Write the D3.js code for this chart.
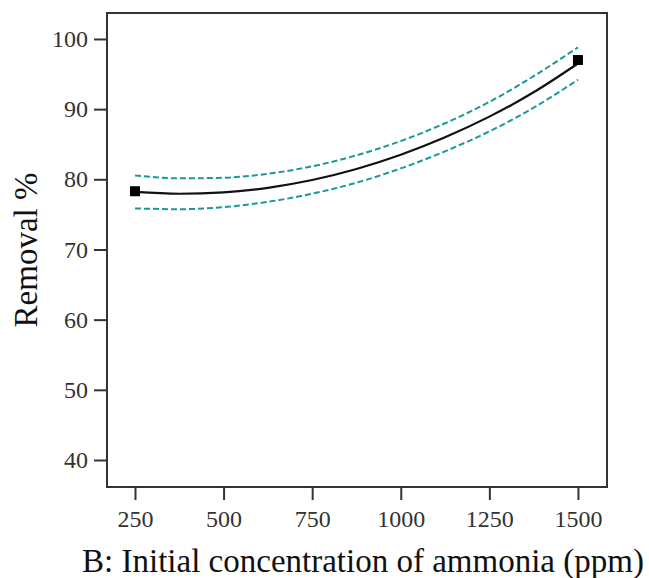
<!DOCTYPE html>
<html>
<head>
<meta charset="utf-8">
<script src="https://cdn.jsdelivr.net/npm/d3@7"></script>
<style>
  html, body { margin: 0; padding: 0; background: #fff; }
  svg { display: block; }
  text { font-family: "Liberation Serif", "Times New Roman", serif; }
</style>
</head>
<body>
<svg id="chart" width="649" height="578"></svg>
<script>
// Initial concentration of ammonia (ppm) and predicted removal (%)
const concentration = [250, 375, 500, 625, 750, 875, 1000, 1125, 1250, 1375, 1500];
const removal      = [78.2, 77.94, 78.13, 78.79, 79.9, 81.47, 83.5, 85.99, 88.93, 92.4, 96.5];
const upperCI      = [80.55, 80.14, 80.23, 80.79, 81.85, 83.42, 85.45, 87.99, 91.03, 94.7, 98.8];
const lowerCI      = [75.85, 75.74, 76.03, 76.79, 77.95, 79.52, 81.55, 83.99, 86.83, 90.2, 94.2];

// Design points
const designX = [250, 1500];
const designY = [78.3, 97.0];

const xTicks = [250, 500, 750, 1000, 1250, 1500];
const yTicks = [40, 50, 60, 70, 80, 90, 100];

const svg = d3.select("#chart");
const plot = { left: 107, right: 607, top: 13, bottom: 487 };

const x = d3.scaleLinear().domain([171, 1582]).range([plot.left, plot.right]);
const y = d3.scaleLinear().domain([36.15, 103.7]).range([plot.bottom, plot.top]);

// Frame
svg.append("rect")
  .attr("x", plot.left).attr("y", plot.top)
  .attr("width", plot.right - plot.left).attr("height", plot.bottom - plot.top)
  .attr("fill", "none").attr("stroke", "#333").attr("stroke-width", 2);

// Axes
const yAxis = svg.append("g")
  .attr("transform", `translate(${plot.left},0)`)
  .call(d3.axisLeft(y).tickValues(yTicks).tickSize(13).tickPadding(6).tickFormat(d3.format("d")));
const xAxis = svg.append("g")
  .attr("transform", `translate(0,${plot.bottom})`)
  .call(d3.axisBottom(x).tickValues(xTicks).tickSize(13).tickPadding(10).tickFormat(d3.format("d")));

[yAxis, xAxis].forEach(g => {
  g.select(".domain").remove();
  g.selectAll(".tick line").attr("stroke", "#333").attr("stroke-width", 2);
  g.selectAll(".tick text")
    .attr("fill", "#333")
    .style("font-family", "'Liberation Serif', 'Times New Roman', serif")
    .style("font-size", "24px");
});

// Confidence band lines
const line = (vals) => d3.line()
  .x((d, i) => x(concentration[i]))
  .y(d => y(d))
  .curve(d3.curveMonotoneX)(vals);

[upperCI, lowerCI].forEach(vals => {
  svg.append("path")
    .attr("d", line(vals))
    .attr("fill", "none")
    .attr("stroke", "#1a9996")
    .attr("stroke-width", 2)
    .attr("stroke-dasharray", "6,3");
});

// Predicted response
svg.append("path")
  .attr("d", line(removal))
  .attr("fill", "none")
  .attr("stroke", "#111")
  .attr("stroke-width", 2.2);

// Design points
svg.selectAll("rect.pt")
  .data(designX)
  .enter().append("rect")
  .attr("class", "pt")
  .attr("x", (d) => x(d) - 5)
  .attr("y", (d, i) => y(designY[i]) - 5)
  .attr("width", 10).attr("height", 10)
  .attr("fill", "#000");

// Axis titles
svg.append("text")
  .attr("x", 363)
  .attr("y", 572)
  .attr("text-anchor", "middle")
  .attr("fill", "#111")
  .style("font-size", "33px")
  .text("B: Initial concentration of ammonia (ppm)");

svg.append("text")
  .attr("transform", `translate(37,250) rotate(-90)`)
  .attr("text-anchor", "middle")
  .attr("fill", "#111")
  .style("font-size", "33px")
  .text("Removal %");
</script>
</body>
</html>
